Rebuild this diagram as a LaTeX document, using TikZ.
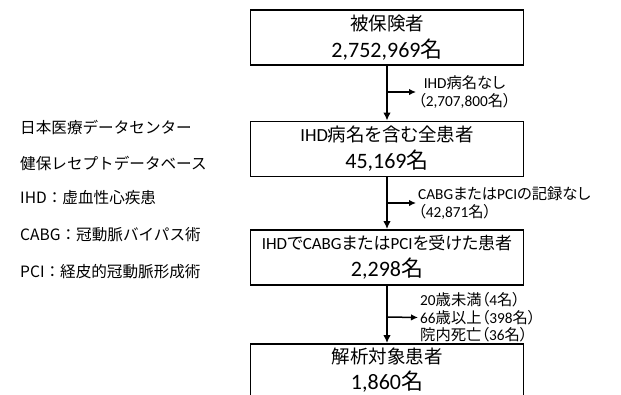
\documentclass[tikz,border=0pt]{standalone}
\usepackage{fontspec}
\setmainfont{Carlito}
\newfontfamily\jpfont[RawFeature=+palt]{Noto Sans CJK JP}
\newfontfamily\legfont{Noto Sans CJK JP}
\newcommand\jt[1]{{\jpfont #1}}
\usetikzlibrary{arrows.meta}
\begin{document}
\begin{tikzpicture}[x=1pt,y=-1pt,
  box/.style={draw, line width=1.8pt, minimum width=273pt, minimum height=55pt,
    inner sep=0pt, align=center, font=\fontsize{18.5}{27}\selectfont},
  boxtext/.style={inner sep=0pt, align=center, font=\fontsize{18.5}{26}\selectfont},
  lab/.style={anchor=west, inner sep=2pt, font=\fontsize{15.3}{17.5}\selectfont},
  leg/.style={anchor=west, inner sep=0pt, font=\legfont\fontsize{15.6}{18}\selectfont},
  arr/.style={line width=1.5pt, -{Latex[length=8pt,width=7.5pt]}},
  brarr/.style={line width=1.5pt, -{Latex[length=7pt,width=6.5pt]}}
]
\useasboundingbox (0,0) rectangle (621,394);
\fill[white] (0,0) rectangle (621,394);
\clip (0,0) rectangle (621,394);

% boxes
\node[box] (b1) at (387,37.5) {\jt{被保険者}\\{\fontsize{22}{27}\selectfont 2,752,969\jt{名}}};
\node[box] (b2) at (387,149) {IHD\jt{病名を含む全患者}\\{\fontsize{22}{27}\selectfont 45,169\jt{名}}};
\node[box] (b3) at (387,257.5) {{\fontsize{17}{27}\selectfont IHD\jt{で}CABG\jt{または}PCI\jt{を受けた患者}}\\{\fontsize{22}{27}\selectfont 2,298\jt{名}}};
\node[box] (b4) at (387,371.5) {};
\node[boxtext] (t4) at (387,370) {\jt{解析対象患者}\\{\fontsize{22}{26}\selectfont 1,860\jt{名}}};

% main arrows
\draw[arr] (b1.south) -- (b2.north);
\draw[arr] (b2.south) -- (b3.north);
\draw[arr] (b3.south) -- (b4.north);

% branches
\coordinate (j1) at (387,92);
\coordinate (j2) at (387,203);
\coordinate (j3) at (387,317);
\node[lab, align=center] (l1) at (416,92) {IHD\jt{病名なし}\\\jt{（}2,707,800\jt{名）}};
\node[lab, align=left] (l2) at (416,203) {CABG\jt{または}PCI\jt{の記録なし}\\\jt{（}42,871\jt{名）}};
\node[lab, align=left] (l3) at (418,317.5) {20\jt{歳未満（}4\jt{名）}\\66\jt{歳以上（}398\jt{名）}\\\jt{院内死亡（}36\jt{名）}};
\draw[brarr] (j1) -- (l1.west);
\draw[brarr] (j2) -- (l2.west);
\draw[brarr] (j3) -- (l3.west);

% legend
\node[leg] (g1) at (20,127) {日本医療データセンター};
\node[leg] (g2) at (20,163) {健保レセプトデータベース};
\node[leg] (g3) at (20,198) {IHD：虚血性心疾患};
\node[leg] (g4) at (20,235) {CABG：冠動脈バイパス術};
\node[leg] (g5) at (20,272) {PCI：経皮的冠動脈形成術};
\end{tikzpicture}
\end{document}
